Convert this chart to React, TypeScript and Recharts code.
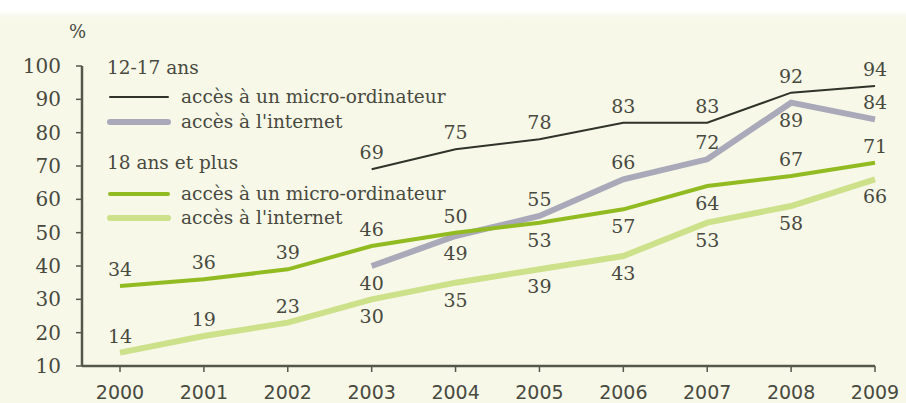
import { LineChart, Line, XAxis, YAxis, Legend } from "recharts";

// Accès à un micro-ordinateur et à l'internet, en %
const YEARS = ["2000", "2001", "2002", "2003", "2004", "2005", "2006", "2007", "2008", "2009"];
const TEEN_PC = [null, null, null, 69, 75, 78, 83, 83, 92, 94];
const TEEN_NET = [null, null, null, 40, 49, 55, 66, 72, 89, 84];
const ADULT_PC = [34, 36, 39, 46, 50, 53, 57, 64, 67, 71];
const ADULT_NET = [14, 19, 23, 30, 35, 39, 43, 53, 58, 66];
const Y_TICKS = [10, 20, 30, 40, 50, 60, 70, 80, 90, 100];

// where each value label sits: 1 above the point, -1 below
const TEEN_PC_SIDE = [1, 1, 1, 1, 1, 1, 1, 1, 1, 1];
const TEEN_NET_SIDE = [1, 1, 1, -1, -1, 1, 1, 1, -1, 1];
const ADULT_PC_SIDE = [1, 1, 1, 1, 1, -1, -1, -1, 1, 1];
const ADULT_NET_SIDE = [1, 1, 1, -1, -1, -1, -1, -1, -1, -1];

const INK = "#48493f";
const AXIS = "#55574b";
const SERIF = "DejaVu Serif";
const SANS = "DejaVu Sans";

const SERIES = [
  { key: "adultNet", name: "accès à l'internet", color: "#cde08a", width: 6, values: ADULT_NET, side: ADULT_NET_SIDE },
  { key: "teenNet", name: "accès à l'internet", color: "#a9a9ba", width: 6, values: TEEN_NET, side: TEEN_NET_SIDE },
  { key: "adultPc", name: "accès à un micro-ordinateur", color: "#92bb22", width: 4, values: ADULT_PC, side: ADULT_PC_SIDE },
  { key: "teenPc", name: "accès à un micro-ordinateur", color: "#2f3329", width: 2, values: TEEN_PC, side: TEEN_PC_SIDE },
];

const rows = YEARS.map((year, i) => {
  const row: Record<string, string | number | null> = { year };
  SERIES.forEach((s) => (row[s.key] = s.values[i]));
  return row;
});

function valueLabel(side: number[]) {
  return (p: any) => {
    if (p.value == null) return null;
    const dy = side[p.index] > 0 ? -17 : 17;
    return (
      <text
        key={p.index}
        x={p.x}
        y={p.y + dy}
        textAnchor="middle"
        dominantBaseline="central"
        style={{ fontFamily: SERIF, fontSize: 19 }}
        fill={INK}
      >
        {p.value}
      </text>
    );
  };
}

function Swatch({ color, width }: { color: string; width: number }) {
  return (
    <svg width={64} height={10} style={{ position: "absolute", left: 0, top: -5 }}>
      <line x1={3} x2={61} y1={5} y2={5} stroke={color} strokeWidth={width} strokeLinecap="round" />
    </svg>
  );
}

const byKey = (k: string) => SERIES.find((s) => s.key === k)!;

const LEGEND_ROWS: { top: number; text: string; key?: string }[] = [
  { top: 68, text: "12-17 ans" },
  { top: 97, text: "", key: "teenPc" },
  { top: 122, text: "", key: "teenNet" },
  { top: 163, text: "18 ans et plus" },
  { top: 194, text: "", key: "adultPc" },
  { top: 218, text: "", key: "adultNet" },
];

function LegendBox() {
  return (
    <div style={{ position: "relative", width: 906, height: 403, fontFamily: SERIF, fontSize: 18.5, color: INK, pointerEvents: "none" }}>
      <div style={{ position: "absolute", left: 69, top: 21, fontSize: 18 }}>%</div>
      {LEGEND_ROWS.map((r, i) => {
        const s = r.key ? byKey(r.key) : null;
        return (
          <div key={i} style={{ position: "absolute", left: 107, top: r.top, height: 0, whiteSpace: "nowrap" }}>
            {s ? <Swatch color={s.color} width={s.width} /> : null}
            <span style={{ position: "absolute", left: s ? 74 : 0, top: -12, lineHeight: "24px" }}>{s ? s.name : r.text}</span>
          </div>
        );
      })}
    </div>
  );
}

export default function App() {
  return (
    <div
      style={{
        position: "absolute",
        left: 0,
        top: 0,
        width: 906,
        height: 403,
        background: "linear-gradient(#ffffff 0px, #ffffff 10px, #f7f8e8 18px, #f7f8e8 100%)",
      }}
    >
      <LineChart width={906} height={403} data={rows} margin={{ top: 66, right: 31, bottom: 7, left: 0 }}>
        <XAxis
          dataKey="year"
          height={30}
          padding={{ left: 38, right: 0 }}
          axisLine={{ stroke: AXIS, strokeWidth: 2.5 }}
          tickLine={{ stroke: AXIS, strokeWidth: 1.5 }}
          tickSize={6}
          tickMargin={14}
          interval={0}
          tick={{ fontFamily: SANS, fontSize: 19, fill: INK }}
        />
        <YAxis
          domain={[10, 100]}
          ticks={Y_TICKS}
          width={82}
          interval={0}
          axisLine={{ stroke: AXIS, strokeWidth: 2.5 }}
          tickLine={{ stroke: AXIS, strokeWidth: 1.5 }}
          tickSize={6}
          tickMargin={15}
          tick={{ fontFamily: SERIF, fontSize: 20, fill: INK }}
        />
        <Legend
          layout="horizontal"
          verticalAlign="middle"
          align="center"
          wrapperStyle={{ left: 0, top: 0, width: 906, height: 403 }}
          content={() => <LegendBox />}
        />
        {SERIES.map((s) => (
          <Line
            key={s.key}
            dataKey={s.key}
            name={s.name}
            stroke={s.color}
            strokeWidth={s.width}
            dot={false}
            activeDot={false}
            connectNulls={false}
            isAnimationActive={false}
            label={valueLabel(s.side)}
          />
        ))}
      </LineChart>
    </div>
  );
}
